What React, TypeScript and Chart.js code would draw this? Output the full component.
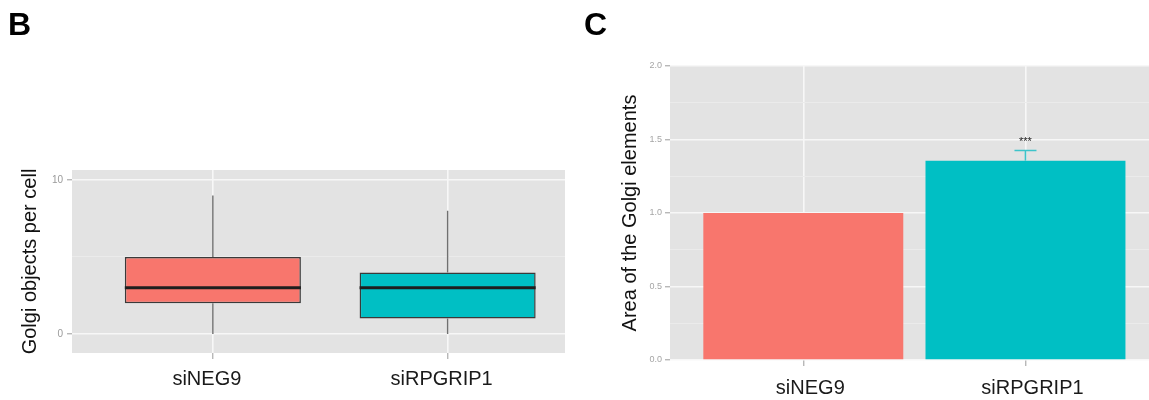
import React, { useEffect, useRef } from 'react';
import { Chart, registerables } from 'chart.js';

Chart.register(...registerables);

// Experimental groups
const categories = ['siNEG9', 'siRPGRIP1'];

// Golgi objects per cell: box plot summaries per group
const whiskerLow = [0, 0];
const quartile1 = [2, 1];
const medians = [3, 3];
const quartile3 = [5, 4];
const whiskerHigh = [9, 8];
const objectMajorTicks = [0, 10];
const objectMinorTicks = [5];

// Area of the Golgi elements: mean with error per group
const areaMeans = [1.0, 1.355];
const areaErrors = [0, 0.07];
const significance = ['', '***'];
const areaMajorTicks = [0, 0.5, 1, 1.5, 2];
const areaMinorTicks = [0.25, 0.75, 1.25, 1.75];

const groupColors = ['#F8766D', '#00BFC4'];
const FONT = '"Liberation Sans", Arial, Helvetica, sans-serif';
const NARROW = '"Liberation Sans Narrow", "Liberation Sans", Arial, sans-serif';
const PANEL_BG = '#E3E3E3';
const GRID_MAJOR = '#F7F7F7';
const GRID_MINOR = '#EBEBEB';
const TICK_GREY = '#9A9A9A';

const panelBackground = {
  id: 'panelBackground',
  beforeDraw(chart: any) {
    const { ctx, chartArea: a } = chart;
    ctx.save();
    ctx.fillStyle = PANEL_BG;
    ctx.fillRect(a.left, a.top, a.right - a.left, a.bottom - a.top);
    ctx.restore();
  },
};

// Whiskers under the boxes, medians on top of them
const boxWhiskers = {
  id: 'boxWhiskers',
  beforeDatasetsDraw(chart: any) {
    const { ctx } = chart;
    const xs = chart.scales.x;
    const ys = chart.scales.y;
    ctx.save();
    ctx.strokeStyle = '#707070';
    ctx.lineWidth = 1.4;
    categories.forEach((_, i) => {
      const px = xs.getPixelForValue(i + 1);
      ctx.beginPath();
      ctx.moveTo(px, ys.getPixelForValue(whiskerHigh[i]));
      ctx.lineTo(px, ys.getPixelForValue(quartile3[i]));
      ctx.moveTo(px, ys.getPixelForValue(quartile1[i]));
      ctx.lineTo(px, ys.getPixelForValue(whiskerLow[i]));
      ctx.stroke();
    });
    ctx.restore();
  },
  afterDatasetsDraw(chart: any) {
    const { ctx } = chart;
    const ys = chart.scales.y;
    const meta = chart.getDatasetMeta(0);
    ctx.save();
    ctx.strokeStyle = '#1E1E1E';
    ctx.lineWidth = 3;
    meta.data.forEach((bar: any, i: number) => {
      const py = ys.getPixelForValue(medians[i]);
      const half = bar.width / 2;
      ctx.beginPath();
      ctx.moveTo(bar.x - half, py);
      ctx.lineTo(bar.x + half, py);
      ctx.stroke();
    });
    ctx.restore();
  },
};

// Upper error bars and significance stars
const errorBars = {
  id: 'errorBars',
  afterDatasetsDraw(chart: any) {
    const { ctx } = chart;
    const ys = chart.scales.y;
    const meta = chart.getDatasetMeta(0);
    ctx.save();
    meta.data.forEach((bar: any, i: number) => {
      const err = areaErrors[i];
      const top = ys.getPixelForValue(areaMeans[i] + err);
      if (err > 0) {
        const cap = bar.width * 0.055;
        ctx.strokeStyle = '#3EC4CA';
        ctx.lineWidth = 1.6;
        ctx.beginPath();
        ctx.moveTo(bar.x, ys.getPixelForValue(areaMeans[i]));
        ctx.lineTo(bar.x, top);
        ctx.moveTo(bar.x - cap, top);
        ctx.lineTo(bar.x + cap, top);
        ctx.stroke();
      }
      if (significance[i]) {
        ctx.fillStyle = '#222222';
        ctx.font = `11px ${FONT}`;
        ctx.textAlign = 'center';
        ctx.textBaseline = 'alphabetic';
        ctx.fillText(significance[i], bar.x, top - 6);
      }
    });
    ctx.restore();
  },
};

const isIn = (list: number[], ctx: any) => !!ctx.tick && list.includes(ctx.tick.value);

function categoryAxis(min: number, max: number, height: number, padding: number, labelOffset: number) {
  return {
    type: 'linear',
    min,
    max,
    offset: false,
    afterBuildTicks: (s: any) => {
      s.ticks = categories.map((_, i) => ({ value: i + 1 }));
    },
    afterFit: (s: any) => {
      s.height = height;
    },
    grid: {
      offset: false,
      color: GRID_MAJOR,
      lineWidth: 1.6,
      tickColor: TICK_GREY,
      tickLength: 6,
      tickWidth: 1,
    },
    border: { display: false },
    ticks: {
      callback: (v: number) => categories[v - 1] ?? '',
      font: { family: FONT, size: 20 },
      color: '#1A1A1A',
      padding,
      labelOffset,
      maxRotation: 0,
      autoSkip: false,
    },
  };
}

export default function App() {
  const boxRef = useRef<HTMLCanvasElement>(null);
  const barRef = useRef<HTMLCanvasElement>(null);

  useEffect(() => {
    const boxChart = new Chart(boxRef.current as HTMLCanvasElement, {
      type: 'bar',
      data: {
        datasets: [
          {
            data: categories.map((_, i) => ({ x: i + 1, y: [quartile1[i], quartile3[i]] })) as any,
            backgroundColor: groupColors,
            borderColor: '#3A3A3A',
            borderWidth: 1.5,
            borderSkipped: false,
            barPercentage: 0.75,
            categoryPercentage: 1,
          },
        ],
      },
      options: {
        responsive: false,
        animation: false,
        layout: { padding: { top: 170, right: 10, bottom: 0, left: 0 } },
        plugins: { legend: { display: false }, tooltip: { enabled: false } },
        scales: {
          x: categoryAxis(0.4, 2.5, 47, 8, -6) as any,
          y: {
            min: -1.234,
            max: 10.649,
            afterBuildTicks: (s: any) => {
              s.ticks = [...objectMajorTicks, ...objectMinorTicks]
                .sort((a, b) => a - b)
                .map((v) => ({ value: v }));
            },
            afterFit: (s: any) => {
              s.width = 72;
            },
            grid: {
              color: (c: any) => (isIn(objectMinorTicks, c) ? GRID_MINOR : GRID_MAJOR),
              lineWidth: (c: any) => (isIn(objectMinorTicks, c) ? 1 : 1.6),
              tickColor: (c: any) => (isIn(objectMinorTicks, c) ? 'rgba(0,0,0,0)' : TICK_GREY),
              tickLength: 5,
              tickWidth: 1,
            },
            border: { display: false },
            ticks: {
              callback: (v: number) => (objectMajorTicks.includes(v) ? String(v) : ''),
              font: { family: NARROW, size: 10 },
              color: TICK_GREY,
              padding: 4,
            },
            title: {
              display: true,
              text: 'Golgi objects per cell',
              font: { family: FONT, size: 20 },
              color: '#111111',
              padding: { top: 18, bottom: 0 },
            },
          },
        },
      },
      plugins: [panelBackground, boxWhiskers],
    });

    const barChart = new Chart(barRef.current as HTMLCanvasElement, {
      type: 'bar',
      data: {
        datasets: [
          {
            data: categories.map((_, i) => ({ x: i + 1, y: areaMeans[i] })) as any,
            backgroundColor: groupColors,
            borderWidth: 0,
            barPercentage: 0.9,
            categoryPercentage: 1,
          },
        ],
      },
      options: {
        responsive: false,
        animation: false,
        layout: { padding: { top: 66, right: 0, bottom: 0, left: 0 } },
        plugins: { legend: { display: false }, tooltip: { enabled: false } },
        scales: {
          x: categoryAxis(0.4, 2.556, 40, 10, 7) as any,
          y: {
            min: 0,
            max: 2,
            afterBuildTicks: (s: any) => {
              s.ticks = [...areaMajorTicks, ...areaMinorTicks]
                .sort((a, b) => a - b)
                .map((v) => ({ value: v }));
            },
            afterFit: (s: any) => {
              s.width = 95;
            },
            grid: {
              color: (c: any) => (isIn(areaMinorTicks, c) ? GRID_MINOR : GRID_MAJOR),
              lineWidth: (c: any) => (isIn(areaMinorTicks, c) ? 1 : 1.6),
              tickColor: (c: any) => (isIn(areaMinorTicks, c) ? 'rgba(0,0,0,0)' : TICK_GREY),
              tickLength: 5,
              tickWidth: 1,
            },
            border: { display: false },
            ticks: {
              callback: (v: number) => (areaMajorTicks.includes(v) ? v.toFixed(1) : ''),
              font: { family: NARROW, size: 9 },
              color: '#A5A5A5',
              padding: 3,
            },
            title: {
              display: true,
              text: 'Area of the Golgi elements',
              font: { family: FONT, size: 20 },
              color: '#111111',
              padding: { top: 43, bottom: 0 },
            },
          },
        },
      },
      plugins: [panelBackground, errorBars],
    });

    return () => {
      boxChart.destroy();
      barChart.destroy();
    };
  }, []);

  const letter: React.CSSProperties = {
    position: 'absolute',
    top: 8,
    font: `bold 32px ${FONT}`,
    lineHeight: '32px',
    color: '#000',
  };

  return (
    <div style={{ position: 'fixed', left: 0, top: 0, width: 1149, height: 400, background: '#fff', overflow: 'hidden' }}>
      <canvas ref={boxRef} width={575} height={400} style={{ position: 'absolute', left: 0, top: 0 }} />
      <canvas ref={barRef} width={574} height={400} style={{ position: 'absolute', left: 575, top: 0 }} />
      <div style={{ ...letter, left: 8 }}>B</div>
      <div style={{ ...letter, left: 584 }}>C</div>
    </div>
  );
}
